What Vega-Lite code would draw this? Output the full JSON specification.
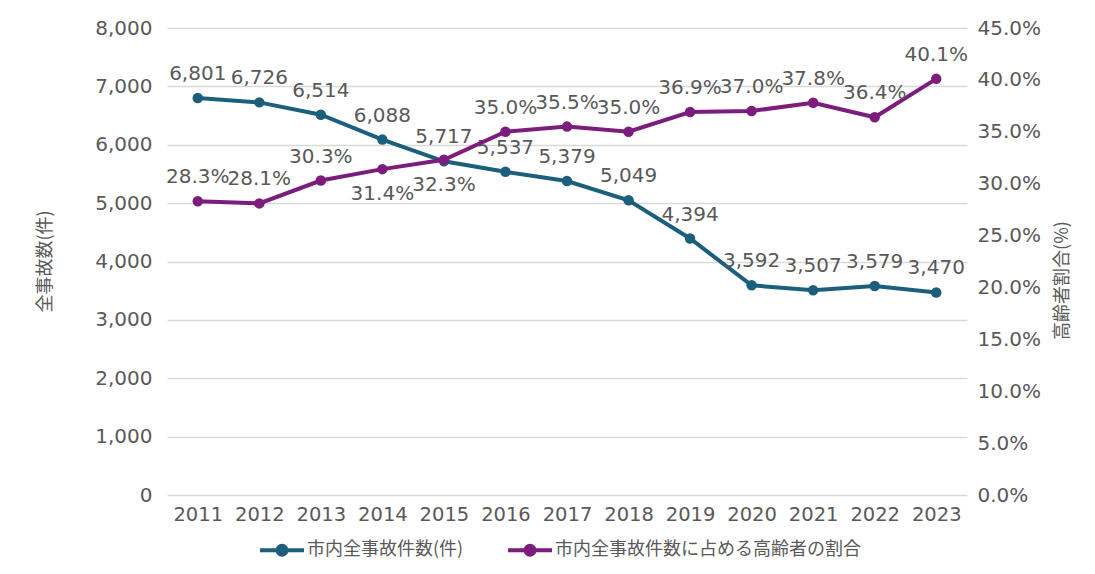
{
  "$schema": "https://vega.github.io/schema/vega-lite/v6.json",
  "width": 800,
  "height": 467,
  "autosize": "none",
  "padding": {"left": 167, "top": 28, "right": 128, "bottom": 79},
  "background": "white",
  "config": {"view": {"stroke": null}, "font": "DejaVu Sans"},
  "data": {
    "values": [
      {"year": "2011", "count": 6801, "ratio": 0.283},
      {"year": "2012", "count": 6726, "ratio": 0.281},
      {"year": "2013", "count": 6514, "ratio": 0.303},
      {"year": "2014", "count": 6088, "ratio": 0.314},
      {"year": "2015", "count": 5717, "ratio": 0.323},
      {"year": "2016", "count": 5537, "ratio": 0.350},
      {"year": "2017", "count": 5379, "ratio": 0.355},
      {"year": "2018", "count": 5049, "ratio": 0.350},
      {"year": "2019", "count": 4394, "ratio": 0.369},
      {"year": "2020", "count": 3592, "ratio": 0.370},
      {"year": "2021", "count": 3507, "ratio": 0.378},
      {"year": "2022", "count": 3579, "ratio": 0.364},
      {"year": "2023", "count": 3470, "ratio": 0.401}
    ]
  },
  "encoding": {
    "x": {
      "field": "year",
      "type": "ordinal",
      "scale": {"type": "point", "padding": 0.5},
      "axis": {
        "title": null,
        "labelAngle": 0,
        "labelFontSize": 19.5,
        "labelColor": "#595959",
        "labelPadding": 10,
        "ticks": false,
        "domain": false,
        "grid": false
      }
    }
  },
  "layer": [
    {
      "layer": [
        {
          "mark": {"type": "line", "strokeWidth": 4, "point": {"filled": true, "size": 110}},
          "encoding": {
            "y": {
              "field": "count",
              "type": "quantitative",
              "scale": {"domain": [0, 8000]},
              "axis": {
                "values": [0, 1000, 2000, 3000, 4000, 5000, 6000, 7000, 8000],
                "format": ",.0f",
                "grid": true,
                "gridColor": "#d9d9d9",
                "gridWidth": 1.5,
                "ticks": false,
                "domain": false,
                "labelFontSize": 20,
                "labelColor": "#595959",
                "labelPadding": 15,
                "title": "全事故数(件)",
                "titleFont": "Noto Sans CJK JP",
                "titleFontSize": 18,
                "titleFontWeight": "normal",
                "titleColor": "#595959",
                "titleX": -122,
                "titleY": 233,
                "titleAngle": -90,
                "titleAlign": "center",
                "titleBaseline": "middle"
              }
            },
            "color": {
              "datum": "市内全事故件数(件)",
              "scale": {
                "domain": ["市内全事故件数(件)", "市内全事故件数に占める高齢者の割合"],
                "range": ["#1b5f7c", "#7c1d7d"]
              },
              "legend": {
                "orient": "none",
                "legendX": 103,
                "legendY": 510,
                "direction": "horizontal",
                "title": null,
                "symbolType": "M-2.2,0H2.2M-0.45,0A0.45,0.45 0 1,0 0.45,0A0.45,0.45 0 1,0 -0.45,0",
                "symbolSize": 400,
                "symbolStrokeWidth": 4,
                "labelFont": "Noto Sans CJK JP",
                "labelFontSize": 18,
                "labelColor": "#595959",
                "labelOffset": 13,
                "labelLimit": 500,
                "columnPadding": 36,
                "encode": {
                  "symbols": {
                    "update": {
                      "fill": {"scale": "color", "field": "value"},
                      "stroke": {"scale": "color", "field": "value"}
                    }
                  }
                }
              }
            }
          }
        },
        {
          "mark": {"type": "text", "dy": -24, "fontSize": 20, "color": "#595959"},
          "encoding": {
            "y": {"field": "count", "type": "quantitative"},
            "text": {"field": "count", "type": "quantitative", "format": ","}
          }
        }
      ]
    },
    {
      "layer": [
        {
          "mark": {"type": "line", "strokeWidth": 4, "point": {"filled": true, "size": 110}},
          "encoding": {
            "y": {
              "field": "ratio",
              "type": "quantitative",
              "scale": {"domain": [0, 0.45]},
              "axis": {
                "orient": "right",
                "values": [0, 0.05, 0.1, 0.15, 0.2, 0.25, 0.3, 0.35, 0.4, 0.45],
                "format": ".1%",
                "grid": false,
                "ticks": false,
                "domain": false,
                "labelFontSize": 20,
                "labelColor": "#595959",
                "labelPadding": 10,
                "title": "高齢者割合(%)",
                "titleFont": "Noto Sans CJK JP",
                "titleFontSize": 18,
                "titleFontWeight": "normal",
                "titleColor": "#595959",
                "titleX": 95,
                "titleY": 252,
                "titleAngle": -90,
                "titleAlign": "center",
                "titleBaseline": "middle"
              }
            },
            "color": {"datum": "市内全事故件数に占める高齢者の割合"}
          }
        },
        {
          "transform": [{"filter": "datum.year != '2014' && datum.year != '2015'"}],
          "mark": {"type": "text", "dy": -24, "fontSize": 20, "color": "#595959"},
          "encoding": {
            "y": {"field": "ratio", "type": "quantitative"},
            "text": {"field": "ratio", "type": "quantitative", "format": ".1%"}
          }
        },
        {
          "transform": [{"filter": "datum.year == '2014' || datum.year == '2015'"}],
          "mark": {"type": "text", "dy": 25, "fontSize": 20, "color": "#595959"},
          "encoding": {
            "y": {"field": "ratio", "type": "quantitative"},
            "text": {"field": "ratio", "type": "quantitative", "format": ".1%"}
          }
        }
      ]
    }
  ],
  "resolve": {"scale": {"y": "independent"}}
}
